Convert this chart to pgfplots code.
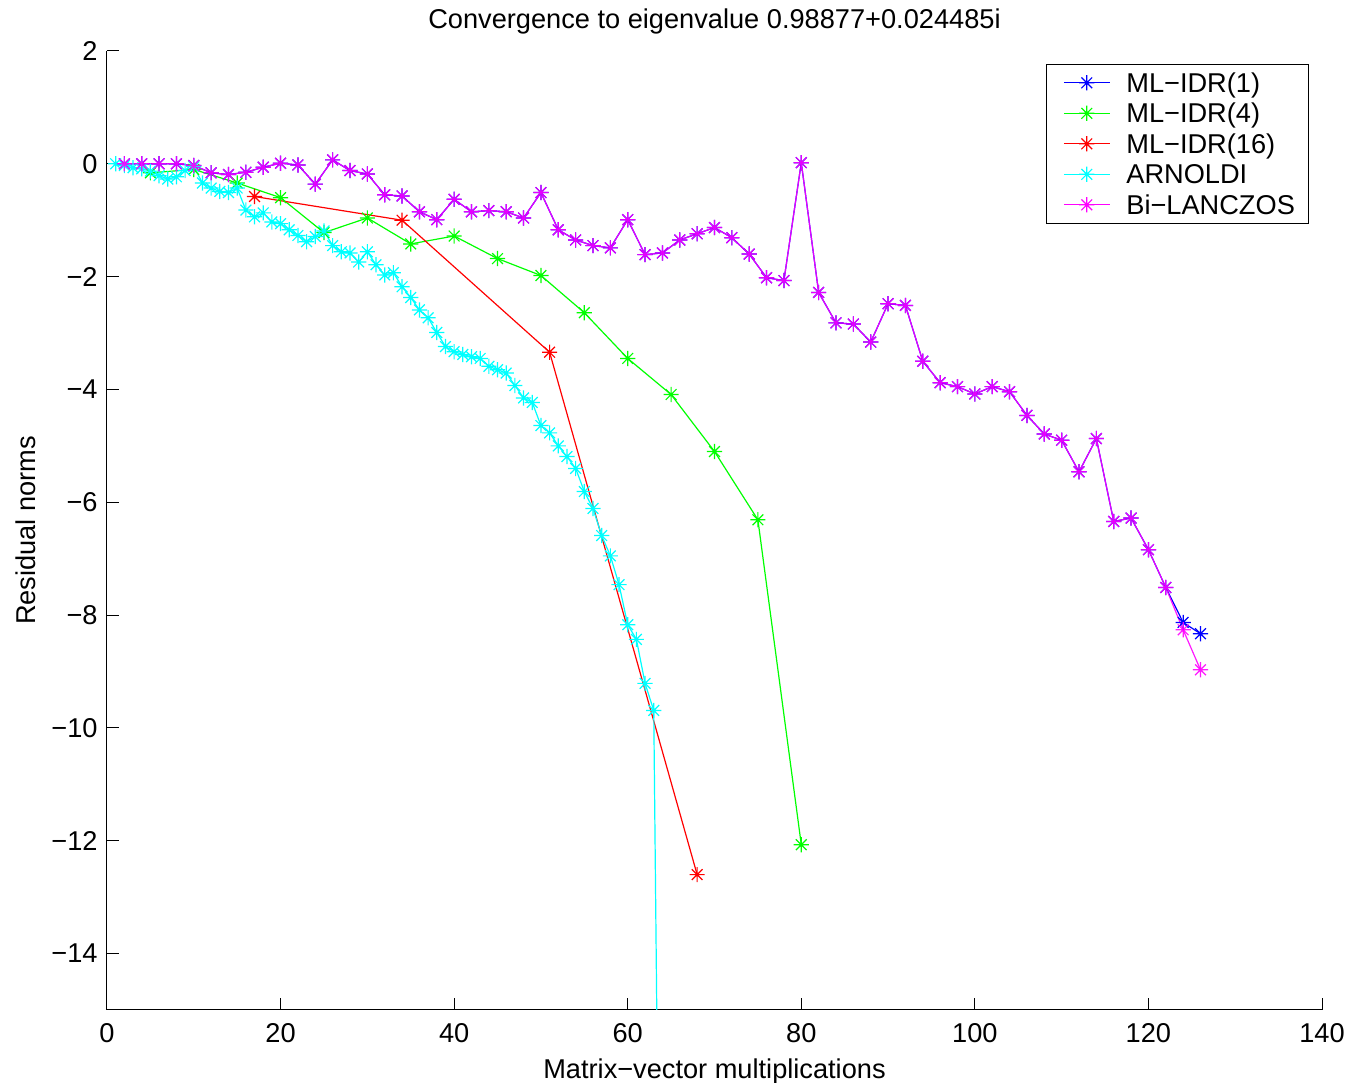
\documentclass[border=0pt]{standalone}
\usepackage{fontspec}
\setmainfont{Liberation Sans}
\usepackage{pgfplots}
\pgfplotsset{compat=1.18}

\definecolor{mlblue}{rgb}{0,0,1}
\definecolor{mlgreen}{rgb}{0,1,0}
\definecolor{mlred}{rgb}{1,0,0}
\definecolor{mlcyan}{rgb}{0,1,1}
\definecolor{mlmagenta}{rgb}{1,0,1}

% MATLAB-style '*' marker: a plus and a cross
\pgfdeclareplotmark{mlstar}{%
  \pgfpathmoveto{\pgfqpoint{-\pgfplotmarksize}{0pt}}%
  \pgfpathlineto{\pgfqpoint{\pgfplotmarksize}{0pt}}%
  \pgfpathmoveto{\pgfqpoint{0pt}{-\pgfplotmarksize}}%
  \pgfpathlineto{\pgfqpoint{0pt}{\pgfplotmarksize}}%
  \pgfpathmoveto{\pgfqpoint{-.7071\pgfplotmarksize}{-.7071\pgfplotmarksize}}%
  \pgfpathlineto{\pgfqpoint{.7071\pgfplotmarksize}{.7071\pgfplotmarksize}}%
  \pgfpathmoveto{\pgfqpoint{-.7071\pgfplotmarksize}{.7071\pgfplotmarksize}}%
  \pgfpathlineto{\pgfqpoint{.7071\pgfplotmarksize}{-.7071\pgfplotmarksize}}%
  \pgfusepathqstroke}

\begin{document}
\fontsize{13.6}{16}\selectfont
\begin{tikzpicture}
\useasboundingbox (-53.5pt,-36pt) rectangle (621pt,505pt);
\begin{axis}[
    at={(0,0)}, anchor=south west,
    scale only axis,
    width=607.5pt, height=479.5pt,
    xmin=0, xmax=140,
    ymin=-15, ymax=2,
    axis x line*=bottom,
    axis y line*=left,
    axis line style={line width=0.5pt},
    tick align=inside,
    major tick length=6pt,
    tick style={black, line width=0.5pt},
    xtick={0,20,...,140},
    ytick={-14,-12,...,2},
    yticklabels={−14,−12,−10,−8,−6,−4,−2,0,2},
    /pgf/number format/assume math mode=true,
    xticklabel style={yshift=-2pt},
    title={Convergence to eigenvalue 0.98877+0.024485i},
    title style={at={(axis description cs:0.5,1)}, anchor=base, yshift=5pt, inner sep=0pt},
    xlabel={Matrix−vector multiplications},
    xlabel style={at={(axis description cs:0.5,0)}, anchor=base, yshift=-34.5pt, inner sep=0pt},
    ylabel={Residual norms},
    ylabel style={at={([xshift=-35.5pt]axis description cs:0,0.5)}, rotate=0, anchor=base, inner sep=0pt},
    every axis plot/.append style={line width=0.6pt, mark=mlstar, mark size=3.8pt,
        mark options={solid, line width=0.6pt}},
    legend cell align=left,
    legend style={at={(1,1)}, anchor=north east, xshift=-6.5pt, yshift=-6.5pt,
        draw=black, line width=0.5pt, inner xsep=6.8pt, inner ysep=1.55pt,
        nodes={inner sep=0pt, text height=12.35pt, text depth=2.9pt}},
    legend image code/.code={%
        \path (0pt,0pt) (32.7pt,0pt);
        \draw[#1, opacity=1, mark repeat=2, mark phase=2] plot coordinates {(1.7pt,0pt) (13.2pt,0pt) (24.7pt,0pt)};
    },
]
% ML-IDR(1)
\addplot[color=mlblue] coordinates {
(2,0) (4,0) (6,0) (8,0) (10,-0.03) (12,-0.16) (14,-0.19) (16,-0.15) (18,-0.06) (20,0.01)
(22,-0.02) (24,-0.36) (26,0.07) (28,-0.12) (30,-0.18) (32,-0.55) (34,-0.57) (36,-0.85) (38,-0.99) (40,-0.63)
(42,-0.85) (44,-0.83) (46,-0.85) (48,-0.96) (50,-0.51) (52,-1.17) (54,-1.35) (56,-1.45) (58,-1.49) (60,-0.99)
(62,-1.61) (64,-1.58) (66,-1.35) (68,-1.24) (70,-1.13) (72,-1.31) (74,-1.60) (76,-2.02) (78,-2.07) (80,0.02)
(82,-2.28) (84,-2.82) (86,-2.84) (88,-3.16) (90,-2.48) (92,-2.51) (94,-3.50) (96,-3.88) (98,-3.95) (100,-4.08)
(102,-3.95) (104,-4.04) (106,-4.46) (108,-4.79) (110,-4.90) (112,-5.46) (114,-4.87) (116,-6.34) (118,-6.28) (120,-6.84)
(122,-7.51) (124,-8.13) (126,-8.33)
};
% ML-IDR(4)
\addplot[color=mlgreen] coordinates {
(5,-0.16) (10,-0.10) (15,-0.34) (20,-0.60) (25,-1.22) (30,-0.96) (35,-1.42) (40,-1.28)
(45,-1.68) (50,-1.98) (55,-2.64) (60,-3.45) (65,-4.09) (70,-5.10) (75,-6.31) (80,-12.07)
};
% ML-IDR(16)
\addplot[color=mlred] coordinates {
(17,-0.58) (34,-1.00) (51,-3.34) (68,-12.60)
};
% ARNOLDI
\addplot[color=mlcyan] coordinates {
(1,0) (2,-0.03) (3,-0.07) (4,-0.09) (5,-0.13) (6,-0.21) (7,-0.27) (8,-0.23) (9,-0.12) (10,-0.05)
(11,-0.34) (12,-0.43) (13,-0.49) (14,-0.51) (15,-0.43) (16,-0.82) (17,-0.94) (18,-0.87) (19,-1.03) (20,-1.06)
(21,-1.17) (22,-1.27) (23,-1.38) (24,-1.29) (25,-1.19) (26,-1.45) (27,-1.56) (28,-1.58) (29,-1.74) (30,-1.56)
(31,-1.79) (32,-1.97) (33,-1.93) (34,-2.18) (35,-2.37) (36,-2.59) (37,-2.73) (38,-2.99) (39,-3.24) (40,-3.33)
(41,-3.38) (42,-3.42) (43,-3.45) (44,-3.59) (45,-3.65) (46,-3.71) (47,-3.93) (48,-4.15) (49,-4.23) (50,-4.64)
(51,-4.77) (52,-5.00) (53,-5.19) (54,-5.40) (55,-5.81) (56,-6.11) (57,-6.59) (58,-6.95) (59,-7.46) (60,-8.17)
(61,-8.43) (62,-9.21) (63,-9.69) (64,-25)
};
% Bi-LANCZOS
\addplot[color=mlmagenta, opacity=0.9] coordinates {
(2,0) (4,0) (6,0) (8,0) (10,-0.03) (12,-0.16) (14,-0.19) (16,-0.15) (18,-0.06) (20,0.01)
(22,-0.02) (24,-0.36) (26,0.07) (28,-0.12) (30,-0.18) (32,-0.55) (34,-0.57) (36,-0.85) (38,-0.99) (40,-0.63)
(42,-0.85) (44,-0.83) (46,-0.85) (48,-0.96) (50,-0.51) (52,-1.17) (54,-1.35) (56,-1.45) (58,-1.49) (60,-0.99)
(62,-1.61) (64,-1.58) (66,-1.35) (68,-1.24) (70,-1.13) (72,-1.31) (74,-1.60) (76,-2.02) (78,-2.07) (80,0.02)
(82,-2.28) (84,-2.82) (86,-2.84) (88,-3.16) (90,-2.48) (92,-2.51) (94,-3.50) (96,-3.88) (98,-3.95) (100,-4.08)
(102,-3.95) (104,-4.04) (106,-4.46) (108,-4.79) (110,-4.90) (112,-5.46) (114,-4.87) (116,-6.34) (118,-6.28) (120,-6.84)
(122,-7.51) (124,-8.26) (126,-8.97)
};
\legend{ML−IDR(1),ML−IDR(4),ML−IDR(16),ARNOLDI,Bi−LANCZOS}
\end{axis}
\end{tikzpicture}
\end{document}
